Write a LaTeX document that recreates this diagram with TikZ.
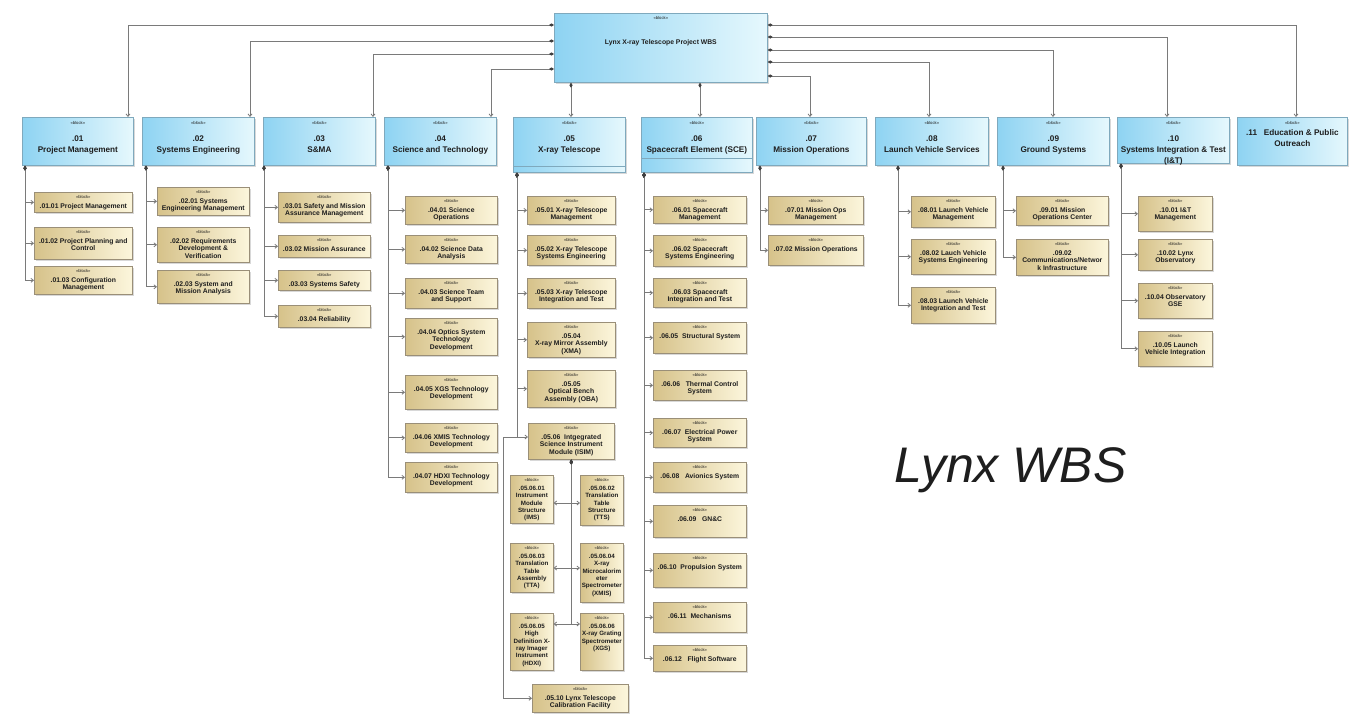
\documentclass[tikz,border=0pt]{standalone}
\usepackage{fontspec}
\setmainfont{Liberation Sans}
\usetikzlibrary{arrows.meta,shadows}
\definecolor{blueL}{HTML}{8ED3F2}
\definecolor{blueR}{HTML}{E6F8FD}
\definecolor{blueB}{HTML}{7FA9BD}
\definecolor{tanL}{HTML}{D6C28A}
\definecolor{tanR}{HTML}{FCF6DC}
\definecolor{tanB}{HTML}{9A8F78}
\definecolor{lineC}{HTML}{7A7A7A}
\definecolor{txt}{HTML}{1E1E1E}
\tikzset{
  shad/.style={drop shadow={shadow xshift=1.5pt, shadow yshift=-1.5pt, fill=black!30}},
  lone/.style={draw=blueB, line width=0.7pt, left color=blueL, right color=blueR, anchor=north west, inner sep=0pt, shad},
  ltwo/.style={draw=tanB, line width=0.6pt, left color=tanL, right color=tanR, anchor=north west, inner sep=0pt, shad},
  stereo/.style={anchor=north, inner sep=0pt, text=txt, font=\fontsize{4.2}{5}\selectfont},
  lonetext/.style={anchor=north, inner sep=0pt, align=center, text=txt, font=\fontsize{8.2}{11}\selectfont\bfseries},
  ltwotext/.style={anchor=north, inner sep=0pt, align=center, text=txt, font=\fontsize{6.8}{7.4}\selectfont\bfseries},
  comp/.style={draw=lineC, line width=0.8pt, arrows={Diamond[length=5pt,width=3.2pt,color=black!75,fill=black!75]-Straight Barb[length=2.5pt,width=4pt,color=lineC]}},
  divline/.style={draw=blueB, line width=0.5pt}
}
\newcommand\Lone[7]{%
  \node[lone, minimum width=#4pt, minimum height=#5pt] (#1) at (#2,#3) {};
  \node[stereo] (#1s) at ([yshift=-4.3pt]#1.north) {«block»};
  \node[lonetext] (#1t) at ([yshift=-#6pt]#1.north) {#7};
}
\newcommand\Ltwo[6]{%
  \node[ltwo, minimum width={#4pt-#2pt}, minimum height={#5pt-#3pt}] (#1) at (#2,#3) {};
  \node[stereo] (#1s) at ([yshift=-3.2pt]#1.north) {«block»};
  \node[ltwotext] (#1t) at ([yshift=-11.3pt]#1.north) {#6};
}
\newcommand\Lsub[6]{%
  \node[ltwo, minimum width={#4pt-#2pt}, minimum height={#5pt-#3pt}] (#1) at (#2,#3) {};
  \node[stereo] (#1s) at ([yshift=-3.2pt]#1.north) {«block»};
  \node[ltwotext, font=\fontsize{6.2}{7.3}\selectfont\bfseries] (#1t) at ([yshift=-11pt]#1.north) {#6};
}
\newcommand\Br[3]{\draw[comp] (#1.south -| #2,0) |- (#3.west);}
\begin{document}
\begin{tikzpicture}[x=1pt,y=-1pt]
\fill[white] (0,0) rectangle (1357,721);
\useasboundingbox (0,0) rectangle (1357,721);

% top block
\node[lone, minimum width=213pt, minimum height=69pt] (T) at (554,13) {};
\node[stereo] (Ts) at ([yshift=-3.5pt]T.north) {«block»};
\node[anchor=center, inner sep=0pt, text=txt, font=\fontsize{6.8}{8}\selectfont\bfseries] (Tt) at ([yshift=-30pt]T.north) {Lynx X-ray Telescope Project WBS};

% level 1
\Lone{C01}{22}{117}{111}{48}{19}{.01\\Project Management}
\Lone{C02}{142}{117}{112}{48}{19}{.02\\Systems Engineering}
\Lone{C03}{263}{117}{112}{48}{19}{.03\\S\&MA}
\Lone{C04}{384}{117}{112}{48}{19}{.04\\Science and Technology}
\Lone{C05}{513}{117}{112}{55}{19}{.05\\X-ray Telescope}
\Lone{C06}{641}{117}{111}{55}{19}{.06\\Spacecraft Element (SCE)}
\Lone{C07}{756}{117}{110}{48}{19}{.07\\Mission Operations}
\Lone{C08}{875}{117}{113}{48}{19}{.08\\Launch Vehicle Services}
\Lone{C09}{997}{117}{112}{48}{19}{.09\\Ground Systems}
\Lone{C10}{1117}{117}{112}{46}{18.5}{\fontsize{8.2}{10.5}\selectfont .10\\Systems Integration \& Test\\(I\&T)}
\Lone{C11}{1237}{117}{110}{48}{12}{\fontsize{8.2}{10}\selectfont .11\ \ \ Education \& Public\\Outreach}
\draw[divline] (C05.west |- 0,166) -- (C05.east |- 0,166);
\draw[divline] (C06.west |- 0,158) -- (C06.east |- 0,158);

% top connectors
\draw[comp] (T.west |- 0,25) -| (C01.north -| 128,0);
\draw[comp] (T.west |- 0,41) -| (C02.north -| 250,0);
\draw[comp] (T.west |- 0,54) -| (C03.north -| 373,0);
\draw[comp] (T.west |- 0,69) -| (C04.north -| 491,0);
\draw[comp] (T.south -| 571,0) -- (C05.north -| 571,0);
\draw[comp] (T.south -| 700,0) -- (C06.north -| 700,0);
\draw[comp] (T.east |- 0,76) -| (C07.north -| 810,0);
\draw[comp] (T.east |- 0,62) -| (C08.north -| 929,0);
\draw[comp] (T.east |- 0,50) -| (C09.north -| 1053,0);
\draw[comp] (T.east |- 0,37) -| (C10.north -| 1167,0);
\draw[comp] (T.east |- 0,25) -| (C11.north -| 1296,0);

% .01
\Ltwo{A0101}{34}{192}{132}{212}{.01.01 Project Management}
\Ltwo{A0102}{34}{227}{132}{259}{.01.02 Project Planning and\\Control}
\Ltwo{A0103}{34}{266}{132}{294}{.01.03 Configuration\\Management}
% .02
\Ltwo{A0201}{157}{187}{249}{215}{.02.01 Systems\\Engineering Management}
\Ltwo{A0202}{157}{227}{249}{262}{.02.02 Requirements\\Development \&\\Verification}
\Ltwo{A0203}{157}{270}{249}{303}{.02.03 System and\\Mission Analysis}
% .03
\Ltwo{A0301}{278}{192}{370}{222}{.03.01 Safety and Mission\\Assurance Management}
\Ltwo{A0302}{278}{235}{370}{257}{.03.02 Mission Assurance}
\Ltwo{A0303}{278}{270}{370}{290}{.03.03 Systems Safety}
\Ltwo{A0304}{278}{305}{370}{327}{.03.04 Reliability}
% .04
\Ltwo{A0401}{405}{196}{497}{224}{.04.01 Science\\Operations}
\Ltwo{A0402}{405}{235}{497}{263}{.04.02 Science Data\\Analysis}
\Ltwo{A0403}{405}{278}{497}{308}{.04.03 Science Team\\and Support}
\Ltwo{A0404}{405}{318}{497}{355}{.04.04 Optics System\\Technology\\Development}
\Ltwo{A0405}{405}{375}{497}{409}{.04.05 XGS Technology\\Development}
\Ltwo{A0406}{405}{423}{497}{452}{.04.06 XMIS Technology\\Development}
\Ltwo{A0407}{405}{462}{497}{492}{.04.07 HDXI Technology\\Development}
% .05
\Ltwo{A0501}{527}{196}{615}{224}{.05.01 X-ray Telescope\\Management}
\Ltwo{A0502}{527}{235}{615}{265}{.05.02 X-ray Telescope\\Systems Engineering}
\Ltwo{A0503}{527}{278}{615}{308}{.05.03 X-ray Telescope\\Integration and Test}
\Ltwo{A0504}{527}{322}{615}{357}{.05.04\\X-ray Mirror Assembly\\(XMA)}
\Ltwo{A0505}{527}{370}{615}{407}{.05.05\\Optical Bench\\Assembly (OBA)}
\Ltwo{ISIM}{528}{423}{614}{459}{.05.06\ \ Intgegrated\\Science Instrument\\Module (ISIM)}
\Lsub{S01}{510}{475}{553}{523}{.05.06.01\\Instrument\\Module\\Structure\\(IMS)}
\Lsub{S02}{580}{475}{623}{525}{.05.06.02\\Translation\\Table\\Structure\\(TTS)}
\Lsub{S03}{510}{543}{553}{592}{.05.06.03\\Translation\\Table\\Assembly\\(TTA)}
\Lsub{S04}{580}{543}{623}{602}{.05.06.04\\X-ray\\Microcalorim\\eter\\Spectrometer\\(XMIS)}
\Lsub{S05}{510}{613}{553}{670}{.05.06.05\\High\\Definition X-\\ray Imager\\Instrument\\(HDXI)}
\Lsub{S06}{580}{613}{623}{670}{.05.06.06\\X-ray Grating\\Spectrometer\\(XGS)}
\Ltwo{A0510}{532}{684}{628}{712}{.05.10 Lynx Telescope\\Calibration Facility}
% .06
\Ltwo{A0601}{653}{196}{746}{223}{.06.01 Spacecraft\\Management}
\Ltwo{A0602}{653}{235}{746}{266}{.06.02 Spacecraft\\Systems Engineering}
\Ltwo{A0603}{653}{278}{746}{307}{.06.03 Spacecraft\\Integration and Test}
\Ltwo{A0605}{653}{322}{746}{353}{.06.05\ \ Structural System}
\Ltwo{A0606}{653}{370}{746}{400}{.06.06\ \ \ Thermal Control\\System}
\Ltwo{A0607}{653}{418}{746}{447}{.06.07\ \ Electrical Power\\System}
\Ltwo{A0608}{653}{462}{746}{492}{.06.08\ \ \ Avionics System}
\Ltwo{A0609}{653}{505}{746}{537}{.06.09\ \ \ GN\&C}
\Ltwo{A0610}{653}{553}{746}{587}{.06.10\ \ Propulsion System}
\Ltwo{A0611}{653}{602}{746}{632}{.06.11\ \ Mechanisms}
\Ltwo{A0612}{653}{645}{746}{671}{.06.12\ \ \ Flight Software}
% .07
\Ltwo{A0701}{768}{196}{863}{224}{.07.01 Mission Ops\\Management}
\Ltwo{A0702}{768}{235}{863}{265}{.07.02 Mission Operations}
% .08
\Ltwo{A0801}{911}{196}{995}{227}{.08.01 Launch Vehicle\\Management}
\Ltwo{A0802}{911}{239}{995}{274}{.08.02 Lauch Vehicle\\Systems Engineering}
\Ltwo{A0803}{911}{287}{995}{323}{.08.03 Launch Vehicle\\Integration and Test}
% .09
\Ltwo{A0901}{1016}{196}{1108}{225}{.09.01 Mission\\Operations Center}
\Ltwo{A0902}{1016}{239}{1108}{275}{.09.02\\Communications/Networ\\k Infrastructure}
% .10
\Ltwo{A1001}{1138}{196}{1212}{231}{.10.01 I\&T\\Management}
\Ltwo{A1002}{1138}{239}{1212}{270}{.10.02 Lynx\\Observatory}
\Ltwo{A1004}{1138}{283}{1212}{318}{.10.04 Observatory\\GSE}
\Ltwo{A1005}{1138}{331}{1212}{366}{.10.05 Launch\\Vehicle Integration}

% branches
\Br{C01}{25}{A0101}\Br{C01}{25}{A0102}\Br{C01}{25}{A0103}
\Br{C02}{146}{A0201}\Br{C02}{146}{A0202}\Br{C02}{146}{A0203}
\Br{C03}{264}{A0301}\Br{C03}{264}{A0302}\Br{C03}{264}{A0303}\Br{C03}{264}{A0304}
\Br{C04}{388}{A0401}\Br{C04}{388}{A0402}\Br{C04}{388}{A0403}\Br{C04}{388}{A0404}\Br{C04}{388}{A0405}\Br{C04}{388}{A0406}\Br{C04}{388}{A0407}
\Br{C05}{517}{A0501}\Br{C05}{517}{A0502}\Br{C05}{517}{A0503}\Br{C05}{517}{A0504}\Br{C05}{517}{A0505}
\draw[comp] (C05.south -| 517,0) |- (ISIM.west |- 0,437);
\coordinate (bend) at (503,437);
\draw[comp] (C05.south -| 517,0) |- (bend) |- (A0510.west);
\Br{C06}{644}{A0601}\Br{C06}{644}{A0602}\Br{C06}{644}{A0603}\Br{C06}{644}{A0605}\Br{C06}{644}{A0606}\Br{C06}{644}{A0607}\Br{C06}{644}{A0608}\Br{C06}{644}{A0609}\Br{C06}{644}{A0610}\Br{C06}{644}{A0611}\Br{C06}{644}{A0612}
\Br{C07}{760}{A0701}\Br{C07}{760}{A0702}
\Br{C08}{898}{A0801}\Br{C08}{898}{A0802}\Br{C08}{898}{A0803}
\Br{C09}{1003}{A0901}\Br{C09}{1003}{A0902}
\Br{C10}{1121}{A1001}\Br{C10}{1121}{A1002}\Br{C10}{1121}{A1004}\Br{C10}{1121}{A1005}
% ISIM sub-tree
\draw[comp] (ISIM.south) |- (S01.east |- 0,503);
\draw[comp] (ISIM.south) |- (S02.west |- 0,503);
\draw[comp] (ISIM.south) |- (S03.east |- 0,568);
\draw[comp] (ISIM.south) |- (S04.west |- 0,568);
\draw[comp] (ISIM.south) |- (S05.east |- 0,624);
\draw[comp] (ISIM.south) |- (S06.west |- 0,624);

\node[anchor=base west, inner sep=0pt, text=txt, font=\fontsize{50}{54}\selectfont\itshape] (wbs) at (894,482) {Lynx WBS};
\end{tikzpicture}
\end{document}
